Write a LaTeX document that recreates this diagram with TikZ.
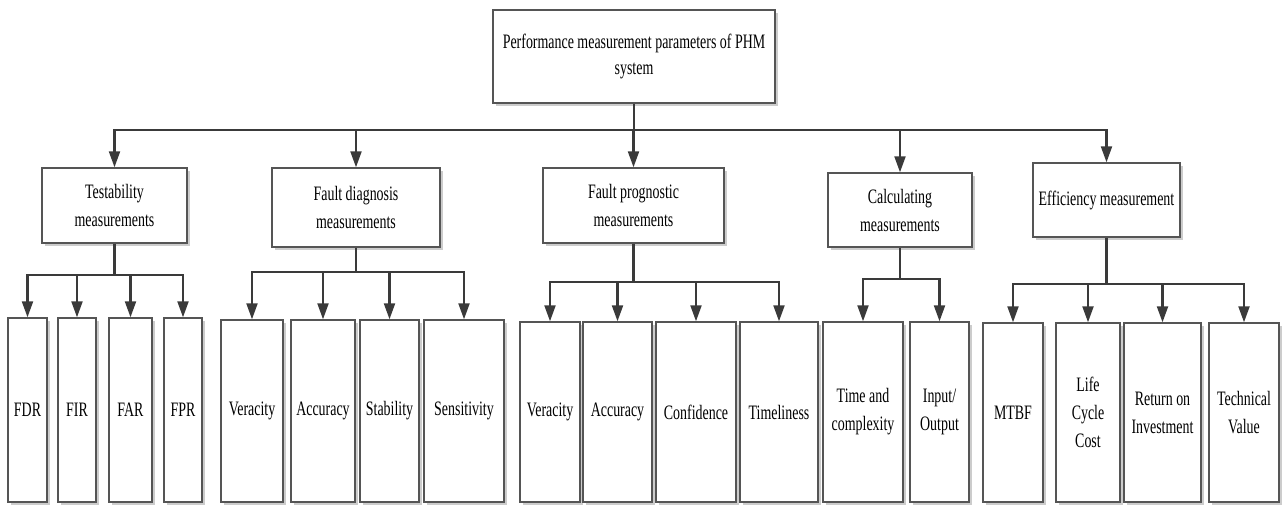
\documentclass[tikz,border=0pt]{standalone}
\usepackage{fontspec}
\setmainfont{Liberation Serif}[FakeStretch=0.68]
\usetikzlibrary{arrows.meta,shadows}
\definecolor{lnc}{HTML}{3A3A3A}
\definecolor{bdc}{HTML}{555555}
\begin{document}
\begin{tikzpicture}[x=1pt,y=-1pt,
  box/.style={draw=bdc, line width=1.4pt, fill=white, inner sep=0pt, align=center,
    font=\fontsize{20.5}{28}\selectfont,
    drop shadow={shadow xshift=3pt,shadow yshift=-3pt,fill=black!20,opacity=1}},
  ln/.style={draw=lnc, line width=2.1pt},
  arr/.style={ln, -{Triangle[length=16pt,width=11pt]}}]
\useasboundingbox (0,0) rectangle (1282,504);

% root
\node[box, minimum width=282pt, minimum height=93pt, font=\fontsize{20.5}{26}\selectfont] (top) at (634,56.5)
  {Performance measurement parameters of PHM\\system};

% level 2
\node[box, minimum width=145pt, minimum height=75pt] (test) at (114.5,205.5) {Testability\\measurements};
\node[box, minimum width=168pt, minimum height=79pt] (diag) at (356,207.5) {Fault diagnosis\\measurements};
\node[box, minimum width=181pt, minimum height=75pt] (prog) at (633.5,205.5) {Fault prognostic\\measurements};
\node[box, minimum width=144pt, minimum height=74pt] (calc) at (900,210) {Calculating\\measurements};
\node[box, minimum width=147pt, minimum height=74pt] (eff) at (1106.5,200) {Efficiency measurement};

% leaves: testability (top 318, bottom 502)
\node[box, minimum width=39pt, minimum height=184pt] (fdr) at (27.5,410) {FDR};
\node[box, minimum width=38pt, minimum height=184pt] (fir) at (77,410) {FIR};
\node[box, minimum width=43pt, minimum height=184pt] (far) at (130.5,410) {FAR};
\node[box, minimum width=38pt, minimum height=184pt] (fpr) at (183,410) {FPR};

% leaves: fault diagnosis (top 320)
\node[box, minimum width=62pt, minimum height=182pt] (dver) at (252,411) {Veracity};
\node[box, minimum width=64pt, minimum height=182pt] (dacc) at (323,411) {Accuracy};
\node[box, minimum width=59pt, minimum height=182pt] (dsta) at (389.5,411) {Stability};
\node[box, minimum width=80pt, minimum height=182pt] (dsen) at (464,411) {Sensitivity};

% leaves: fault prognostic (top 322)
\node[box, minimum width=60pt, minimum height=180pt] (pver) at (550,412) {Veracity};
\node[box, minimum width=69pt, minimum height=180pt] (pacc) at (617.5,412) {Accuracy};
\node[box, minimum width=80pt, minimum height=180pt] (pcon) at (696,412) {Confidence};
\node[box, minimum width=78pt, minimum height=180pt] (ptim) at (779,412) {Timeliness};

% leaves: calculating (top 322)
\node[box, minimum width=80pt, minimum height=180pt] (ctime) at (863,412) {Time and\\complexity};
\node[box, minimum width=59pt, minimum height=180pt] (cio) at (939.5,412) {Input/\\Output};

% leaves: efficiency (top 323)
\node[box, minimum width=60pt, minimum height=179pt] (mtbf) at (1013,412.5) {MTBF};
\node[box, minimum width=64pt, minimum height=179pt] (lcc) at (1088,412.5) {Life\\Cycle\\Cost};
\node[box, minimum width=77pt, minimum height=179pt] (roi) at (1162.5,412.5) {Return on\\Investment};
\node[box, minimum width=70pt, minimum height=179pt] (tv) at (1244,412.5) {Technical\\Value};

% bus coordinates
\coordinate (b0) at (634,130);
\coordinate (bt) at (114.5,275);
\coordinate (bd) at (356,272);
\coordinate (bp) at (633.5,282);
\coordinate (bc) at (900,279);
\coordinate (be) at (1106.5,284);

% root connectors
\draw[ln] (top.south) -- (b0);
\foreach \c in {test,diag,prog,calc,eff} \draw[arr] (b0) -| (\c.north);

% level-2 connectors
\draw[ln] (test.south) -- (bt);
\foreach \c in {fdr,fir,far,fpr} \draw[arr] (bt) -| (\c.north);
\draw[ln] (diag.south) -- (bd);
\foreach \c in {dver,dacc,dsta,dsen} \draw[arr] (bd) -| (\c.north);
\draw[ln] (prog.south) -- (bp);
\foreach \c in {pver,pacc,pcon,ptim} \draw[arr] (bp) -| (\c.north);
\draw[ln] (calc.south) -- (bc);
\foreach \c in {ctime,cio} \draw[arr] (bc) -| (\c.north);
\draw[ln] (eff.south) -- (be);
\foreach \c in {mtbf,lcc,roi,tv} \draw[arr] (be) -| (\c.north);
\end{tikzpicture}
\end{document}
